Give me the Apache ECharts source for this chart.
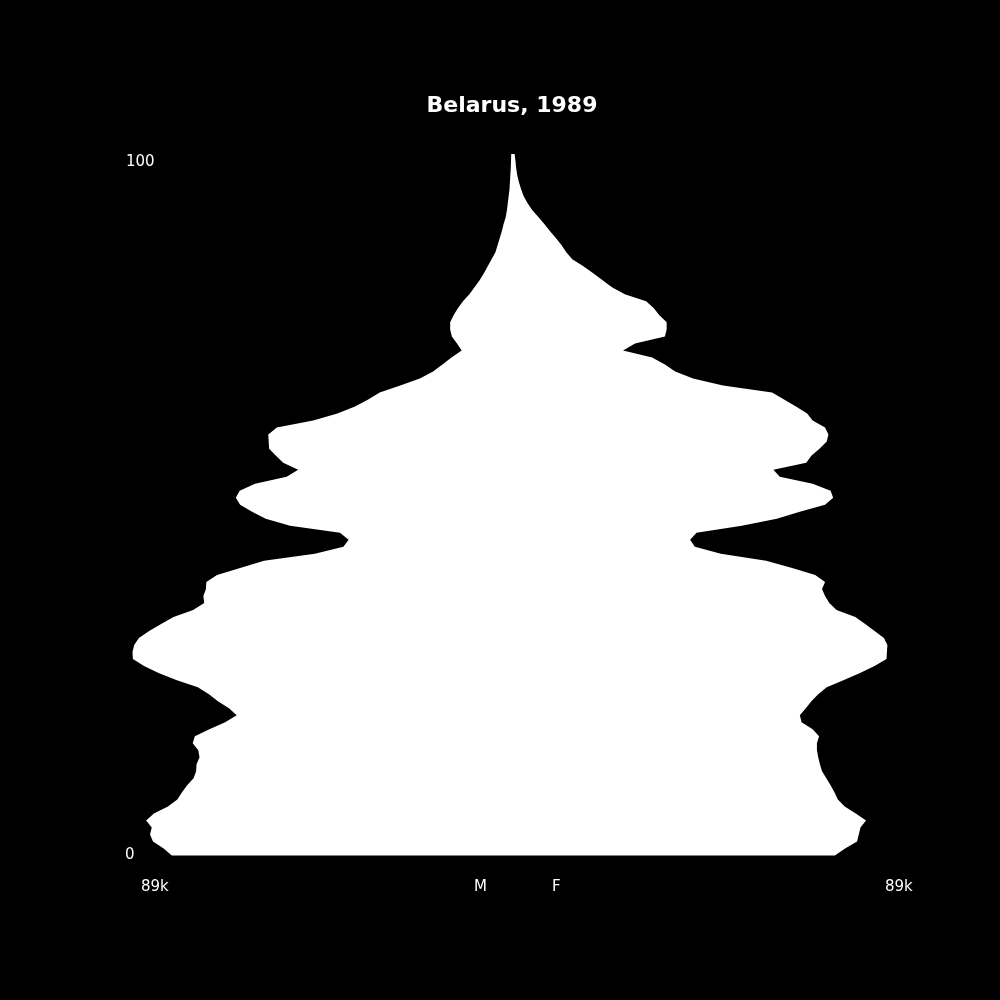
<!DOCTYPE html>
<html>
<head>
<meta charset="utf-8">
<script src="https://cdn.jsdelivr.net/npm/echarts@6/dist/echarts.min.js"></script>
<style>
html,body{margin:0;padding:0;background:#000;}
#chart{width:1000px;height:1000px;}
</style>
</head>
<body>
<div id="chart"></div>
<script>
// Ages 0..100
const ages = Array.from({length: 101}, (_, i) => i);
// Male population by age, thousands
const male = [
79.8,81.7,84.2,84.9,84.5,85.8,84.0,80.7,78.5,77.4,
76.2,74.7,74.1,74.0,73.3,73.6,74.9,74.4,71.0,67.3,
64.6,66.4,69.0,71.1,73.7,78.6,82.9,86.3,88.9,89.0,
88.6,87.5,85.1,82.3,79.4,74.8,72.2,72.4,71.8,71.7,
69.2,63.8,58.2,46.3,39.6,38.4,40.4,52.1,57.8,61.0,
63.8,64.8,63.9,60.3,52.9,50.2,53.7,55.4,57.0,57.1,
57.2,55.2,46.7,41.0,36.9,33.8,31.1,26.3,21.7,18.6,
16.4,14.3,11.9,13.0,14.2,14.6,14.6,13.8,12.8,11.6,
10.1,8.9,7.7,6.7,5.8,4.9,4.0,3.5,3.0,2.5,
2.1,1.6,1.3,1.1,0.9,0.7,0.6,0.5,0.4,0.35,0.3
];
// Female population by age, thousands
const female = [
75.5,77.9,80.7,81.1,81.5,82.8,80.4,77.8,76.2,75.4,
74.5,73.5,72.5,72.0,71.6,71.3,71.3,71.8,70.3,67.7,
67.3,68.7,70.0,71.6,73.6,77.5,81.4,84.8,87.6,87.7,
87.8,87.0,84.8,82.6,80.3,75.9,74.2,73.2,72.5,73.2,
70.9,65.5,59.4,48.8,42.7,41.6,43.1,53.7,61.9,67.3,
73.2,75.1,74.5,70.3,62.6,61.1,68.8,70.0,71.9,73.6,
74.0,73.2,70.3,69.0,66.4,63.6,60.8,49.3,42.3,38.1,
35.7,32.7,25.9,28.7,35.7,36.1,36.1,34.4,33.1,31.3,
26.3,23.3,21.1,18.9,16.6,14.0,12.6,11.5,10.2,8.8,
7.5,6.1,4.6,3.5,2.6,2.0,1.5,1.1,0.85,0.7,0.5
];
const axisMax = 89; // thousands
const title = 'Belarus, 1989';
const ageTickLabels = ['0', '100'];
const sideLabels = ['M', 'F'];
const scaleLabel = '89k';

const chart = echarts.init(document.getElementById('chart'), null, {renderer: 'canvas'});
const txt = {fill: '#fff', fontFamily: 'DejaVu Sans', fontSize: 15};
chart.setOption({
  backgroundColor: '#000',
  animation: false,
  title: {
    text: title, left: 507, top: 90, textAlign: 'center',
    textStyle: {color: '#fff', fontFamily: 'DejaVu Sans', fontWeight: 'bold', fontSize: 22}
  },
  grid: {left: 132.5, right: 107.5, top: 154, bottom: 144.5, containLabel: false},
  xAxis: {type: 'value', min: -axisMax, max: axisMax, show: false},
  yAxis: {type: 'value', min: 0, max: 100, show: false},
  series: [{
    type: 'custom',
    coordinateSystem: 'cartesian2d',
    data: [[0, 0]],
    renderItem: function (params, api) {
      const pts = [];
      for (let i = 0; i < ages.length; i++) pts.push(api.coord([-male[i], ages[i]]));
      for (let i = ages.length - 1; i >= 0; i--) pts.push(api.coord([female[i], ages[i]]));
      return {type: 'polygon', shape: {points: pts}, style: {fill: '#fff', stroke: null}};
    }
  }],
  graphic: [
    {type: 'text', left: 126, top: 155, style: Object.assign({text: ageTickLabels[1]}, txt)},
    {type: 'text', left: 125, top: 848, style: Object.assign({text: ageTickLabels[0]}, txt)},
    {type: 'text', left: 141, top: 880, style: Object.assign({text: scaleLabel}, txt)},
    {type: 'text', left: 885, top: 880, style: Object.assign({text: scaleLabel}, txt)},
    {type: 'text', left: 474, top: 880, style: Object.assign({text: sideLabels[0]}, txt)},
    {type: 'text', left: 552, top: 880, style: Object.assign({text: sideLabels[1]}, txt)}
  ]
});
</script>
</body>
</html>
